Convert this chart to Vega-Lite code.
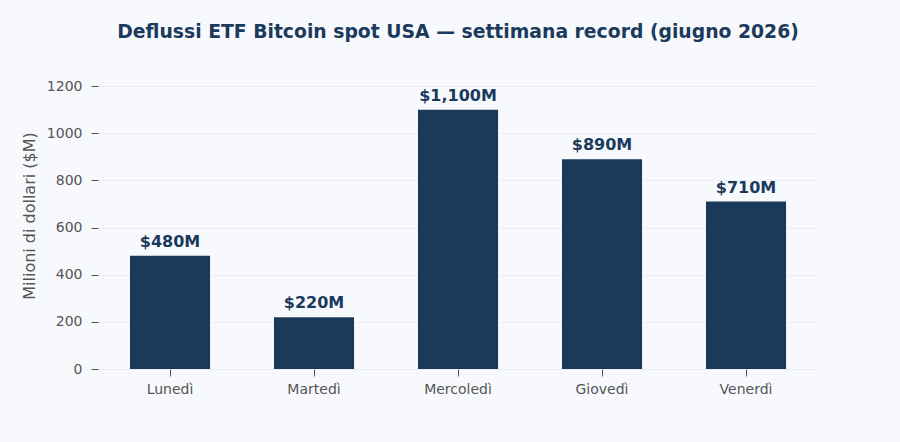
{
  "$schema": "https://vega.github.io/schema/vega-lite/v6.json",
  "autosize": "none",
  "width": 720,
  "height": 307,
  "padding": {"left": 98, "top": 62, "right": 82, "bottom": 73},
  "background": "#f7f9fd",
  "config": {
    "view": {"stroke": null},
    "font": "DejaVu Sans"
  },
  "title": {
    "text": "Deflussi ETF Bitcoin spot USA — settimana record (giugno 2026)",
    "font": "DejaVu Sans",
    "fontSize": 18.8,
    "fontWeight": "bold",
    "color": "#1b3a5c",
    "anchor": "middle",
    "offset": 20
  },
  "data": {
    "values": [
      {"giorno": "Lunedì", "valore": 480, "etichetta": "$480M"},
      {"giorno": "Martedì", "valore": 220, "etichetta": "$220M"},
      {"giorno": "Mercoledì", "valore": 1100, "etichetta": "$1,100M"},
      {"giorno": "Giovedì", "valore": 890, "etichetta": "$890M"},
      {"giorno": "Venerdì", "valore": 710, "etichetta": "$710M"}
    ]
  },
  "encoding": {
    "x": {
      "field": "giorno",
      "type": "nominal",
      "sort": null,
      "scale": {"paddingInner": 0.444, "paddingOuter": 0.222},
      "axis": {
        "title": null,
        "labelAngle": 0,
        "labelFontSize": 14,
        "labelColor": "#555555",
        "tickColor": "#555555",
        "tickSize": 7,
        "labelPadding": 6,
        "domain": false,
        "grid": false
      }
    },
    "y": {
      "field": "valore",
      "type": "quantitative",
      "scale": {"domain": [0, 1302], "nice": false},
      "axis": {
        "title": "Milioni di dollari ($M)",
        "titleFontSize": 16,
        "titleFontWeight": "normal",
        "titleColor": "#555555",
        "titlePadding": 9,
        "values": [0, 200, 400, 600, 800, 1000, 1200],
        "format": "d",
        "labelFontSize": 14,
        "labelColor": "#555555",
        "tickColor": "#555555",
        "tickSize": 7,
        "labelPadding": 9,
        "domain": false,
        "grid": true,
        "gridColor": "#e9eef5",
        "gridWidth": 1
      }
    }
  },
  "layer": [
    {"mark": {"type": "bar", "color": "#1a3a5c"}},
    {
      "mark": {"type": "text", "baseline": "bottom", "dy": -6, "fontSize": 16, "fontWeight": "bold", "color": "#1a3a5c"},
      "encoding": {"text": {"field": "etichetta"}}
    }
  ]
}
